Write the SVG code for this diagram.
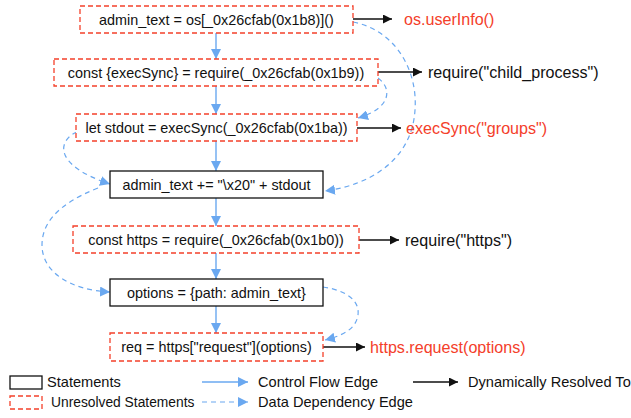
<svg xmlns="http://www.w3.org/2000/svg" width="631" height="418" viewBox="0 0 631 418">
<style>
text{fill:#111;font-family:"Liberation Sans",Arial,sans-serif}
.n{font-size:14.4px}
.l{font-size:14.6px}
.r{font-size:16.1px}
.red{fill:#f4402a}
.sol{fill:#fff;stroke:#111;stroke-width:1.3}
.dsh{fill:#fff;stroke:#f4402a;stroke-width:1.3;stroke-dasharray:5,3}
.cf{stroke:#6aa8f0;stroke-width:1.4;fill:none}
.dd{stroke:#6aa8f0;stroke-width:1.2;fill:none;stroke-dasharray:5,4}
.dr{stroke:#111;stroke-width:1.3;fill:none}
</style>
<defs>
<marker id="ab" viewBox="0 0 10 10" refX="10" refY="5" markerWidth="10" markerHeight="10" markerUnits="userSpaceOnUse" orient="auto"><path d="M0,0L10,5L0,10z" fill="#6aa8f0"/></marker>
<marker id="ak" viewBox="0 0 10 10" refX="10" refY="5" markerWidth="11" markerHeight="9" markerUnits="userSpaceOnUse" orient="auto"><path d="M0,0L10,5L0,10z" fill="#111"/></marker>
</defs>
<g id="connectors">
<line class="cf" x1="216" y1="33" x2="216" y2="59" marker-end="url(#ab)"/>
<line class="cf" x1="216" y1="86" x2="216" y2="114" marker-end="url(#ab)"/>
<line class="cf" x1="216" y1="141" x2="216" y2="171" marker-end="url(#ab)"/>
<line class="cf" x1="216" y1="198" x2="216" y2="226" marker-end="url(#ab)"/>
<line class="cf" x1="216" y1="253" x2="216" y2="279" marker-end="url(#ab)"/>
<line class="cf" x1="216" y1="306" x2="216" y2="333" marker-end="url(#ab)"/>
<line class="dr" x1="353" y1="19" x2="392" y2="19" marker-end="url(#ak)"/>
<line class="dr" x1="378" y1="72" x2="422" y2="72" marker-end="url(#ak)"/>
<line class="dr" x1="357" y1="128" x2="401" y2="128" marker-end="url(#ak)"/>
<line class="dr" x1="359" y1="240" x2="399" y2="240" marker-end="url(#ak)"/>
<line class="dr" x1="323" y1="347" x2="365" y2="347" marker-end="url(#ak)"/>
<path class="dd" d="M353,22 C395,30 418,70 415,110 C412,160 370,185 325,191" marker-end="url(#ab)"/>
<path class="dd" d="M378,78 C392,88 392,108 358,118" marker-end="url(#ab)"/>
<path class="dd" d="M77,132 C58,140 52,165 110,184" marker-end="url(#ab)"/>
<path class="dd" d="M98,188 C55,205 42,225 42,245 C42,272 70,290 110,292" marker-end="url(#ab)"/>
<path class="dd" d="M323,287 C345,290 360,300 358,315 C356,328 345,335 325,340" marker-end="url(#ab)"/>
</g>
<g id="n1"><rect class="dsh" x="80" y="6" width="273" height="27"/><text class="n" x="216.5" y="25" text-anchor="middle">admin_text = os[_0x26cfab(0x1b8)]()</text></g>
<g id="n2"><rect class="dsh" x="54" y="59" width="324" height="27"/><text class="n" x="216" y="78" text-anchor="middle">const {execSync} = require(_0x26cfab(0x1b9))</text></g>
<g id="n3"><rect class="dsh" x="76" y="114" width="281" height="27"/><text class="n" x="216.5" y="133" text-anchor="middle">let stdout = execSync(_0x26cfab(0x1ba))</text></g>
<g id="n4"><rect class="sol" x="110" y="171" width="213" height="27"/><text class="n" x="216.5" y="190" text-anchor="middle">admin_text += "\x20" + stdout</text></g>
<g id="n5"><rect class="dsh" x="73" y="226" width="286" height="27"/><text class="n" x="216" y="245" text-anchor="middle">const https = require(_0x26cfab(0x1b0))</text></g>
<g id="n6"><rect class="sol" x="110" y="279" width="213" height="27"/><text class="n" x="216.5" y="298" text-anchor="middle">options = {path: admin_text}</text></g>
<g id="n7"><rect class="dsh" x="110" y="333" width="213" height="28"/><text class="n" x="216.5" y="352" text-anchor="middle">req = https["request"](options)</text></g>
<g id="r1"><text class="r red" x="404" y="25">os.userInfo()</text></g>
<g id="r2"><text class="r" x="428" y="78">require("child_process")</text></g>
<g id="r3"><text class="r red" x="406" y="134">execSync("groups")</text></g>
<g id="r5"><text class="r" x="405" y="246">require("https")</text></g>
<g id="r7"><text class="r red" x="370" y="353">https.request(options)</text></g>
<g id="legend">
<rect class="sol" x="10" y="376" width="32" height="13"/>
<text class="l" x="47" y="387">Statements</text>
<rect class="dsh" x="10" y="396" width="32" height="13"/>
<text class="l" x="51" y="407" style="font-size:13.8px">Unresolved Statements</text>
<line class="cf" x1="202" y1="382" x2="248" y2="382" marker-end="url(#ab)"/>
<text class="l" x="258" y="387">Control Flow Edge</text>
<line class="dd" x1="202" y1="402" x2="248" y2="402" marker-end="url(#ab)"/>
<text class="l" x="258" y="407">Data Dependency Edge</text>
<line class="dr" x1="413" y1="382" x2="458" y2="382" marker-end="url(#ak)"/>
<text class="l" x="468" y="387">Dynamically Resolved To</text>
</g>
</svg>
